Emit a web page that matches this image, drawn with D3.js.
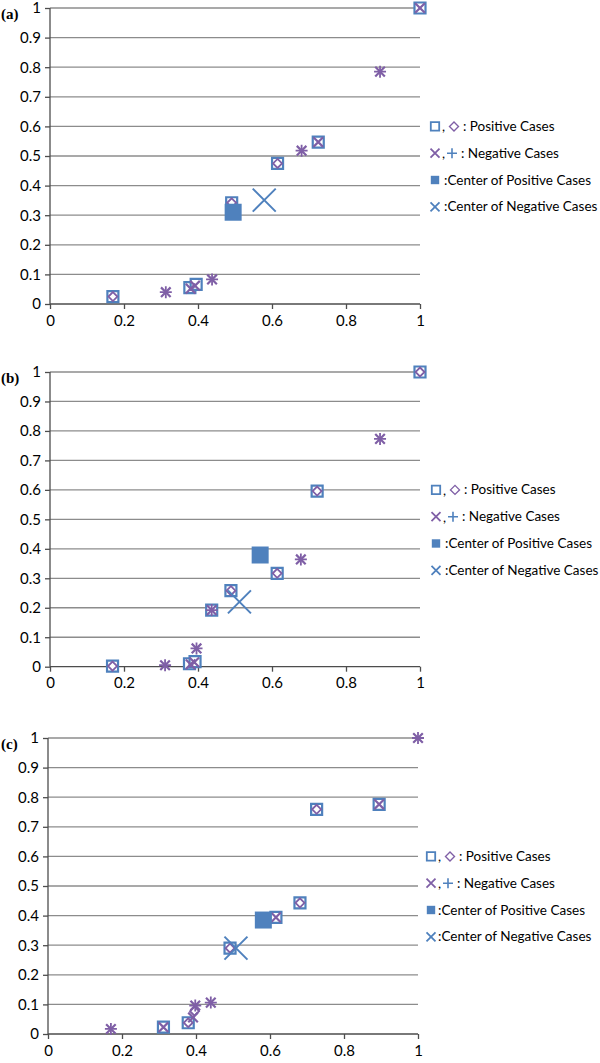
<!DOCTYPE html>
<html><head><meta charset="utf-8">
<script src="https://cdn.jsdelivr.net/npm/d3@7"></script>
<style>body{margin:0;background:#fff}svg{display:block}</style>
</head><body>
<svg id="c" width="600" height="1063"></svg>
<script>
// ---------- data ----------
const panelLabels = ["(a)", "(b)", "(c)"];
const xTicks = [0, 0.2, 0.4, 0.6, 0.8, 1];
const yTicks = [0, 0.1, 0.2, 0.3, 0.4, 0.5, 0.6, 0.7, 0.8, 0.9, 1];
const legendLabels = ["Positive Cases", "Negative Cases", "Center of Positive Cases", "Center of Negative Cases"];

// panel (a)
const aSquares  = [[0.17,0.025],[0.378,0.055],[0.395,0.066],[0.491,0.342],[0.615,0.475],[0.725,0.547],[1.0,1.0]];
const aDiamonds = [[0.17,0.025],[0.491,0.342],[0.615,0.475]];
const aCrosses  = [[0.313,0.04],[0.38,0.052],[0.392,0.062],[0.438,0.083],[0.68,0.518],[0.725,0.547],[0.892,0.785],[1.0,1.0]];
const aPluses   = [[0.313,0.04],[0.438,0.083],[0.68,0.518],[0.892,0.785]];
const aCenterPos = [0.495, 0.31];
const aCenterNeg = [0.579, 0.351];

// panel (b)
const bSquares  = [[0.169,0.002],[0.377,0.01],[0.392,0.017],[0.437,0.192],[0.489,0.258],[0.614,0.317],[0.722,0.596],[1.0,1.0]];
const bDiamonds = [[0.169,0.002],[0.489,0.258],[0.614,0.317],[0.722,0.596],[1.0,1.0]];
const bCrosses  = [[0.311,0.005],[0.38,0.008],[0.39,0.015],[0.396,0.062],[0.437,0.192],[0.678,0.364],[0.892,0.773]];
const bPluses   = [[0.311,0.005],[0.396,0.062],[0.437,0.192],[0.678,0.364],[0.892,0.773]];
const bCenterPos = [0.568, 0.379];
const bCenterNeg = [0.512, 0.22];

// panel (c)
const cSquares  = [[0.312,0.023],[0.379,0.038],[0.492,0.29],[0.616,0.394],[0.681,0.443],[0.726,0.759],[0.895,0.776]];
const cDiamonds = [[0.379,0.038],[0.396,0.077],[0.492,0.29],[0.681,0.443],[0.726,0.759]];
const cCrosses  = [[0.17,0.017],[0.312,0.023],[0.392,0.056],[0.398,0.096],[0.44,0.106],[0.616,0.394],[0.895,0.776],[1.0,1.0]];
const cPluses   = [[0.17,0.017],[0.398,0.096],[0.44,0.106],[1.0,1.0]];
const cCenterPos = [0.582, 0.385];
const cCenterNeg = [0.508, 0.29];

// ---------- layout ----------
const panels = [
  {label: panelLabels[0], left: 50, right: 420, top: 8,   bottom: 304,
   sq: aSquares, di: aDiamonds, cr: aCrosses, pl: aPluses, cp: aCenterPos, cn: aCenterNeg, legDx: 12, colonDx: 12},
  {label: panelLabels[1], left: 50, right: 420, top: 372, bottom: 666.7,
   sq: bSquares, di: bDiamonds, cr: bCrosses, pl: bPluses, cp: bCenterPos, cn: bCenterNeg, legDx: 13, colonDx: 12},
  {label: panelLabels[2], left: 48, right: 418, top: 738, bottom: 1034,
   sq: cSquares, di: cDiamonds, cr: cCrosses, pl: cPluses, cp: cCenterPos, cn: cCenterNeg, legDx: 10, colonDx: 10}
];

const BLUE = "#4F81BD", PURPLE = "#7F5FA6", GRID = "#8c8c8c", AXIS = "#4d4d4d";
const FONT = "Lato, 'Noto Sans', sans-serif";
const svg = d3.select("#c");

function sqPath(s){ return `M${-s},${-s}H${s}V${s}H${-s}Z`; }
function diPath(s){ return `M0,${-s}L${s},0L0,${s}L${-s},0Z`; }
function crPath(s){ return `M${-s},${-s}L${s},${s}M${-s},${s}L${s},${-s}`; }
function plPath(s){ return `M${-s},0H${s}M0,${-s}V${s}`; }

panels.forEach(p => {
  const x = d3.scaleLinear().domain([0,1]).range([p.left, p.right]);
  const y = d3.scaleLinear().domain([0,1]).range([p.bottom, p.top]);
  const g = svg.append("g");

  // gridlines
  g.selectAll("line.grid").data(yTicks.filter(t => t > 0)).join("line")
    .attr("x1", p.left).attr("x2", p.right)
    .attr("y1", d => y(d)).attr("y2", d => y(d))
    .attr("stroke", GRID).attr("stroke-width", 1.3);

  // axes
  const ya = g.append("g").attr("transform", `translate(${p.left},0)`)
    .call(d3.axisLeft(y).tickValues(yTicks).tickFormat(d3.format("")).tickSize(5).tickPadding(4));
  const xa = g.append("g").attr("transform", `translate(0,${p.bottom})`)
    .call(d3.axisBottom(x).tickValues(xTicks).tickFormat(d3.format("")).tickSize(5).tickPadding(6));
  [ya, xa].forEach(a => {
    a.select(".domain").attr("stroke", AXIS).attr("stroke-width", 1.3);
    a.selectAll(".tick line").attr("stroke", AXIS).attr("stroke-width", 1.3);
    a.selectAll("text").attr("font-family", FONT).attr("font-size", 15).attr("fill", "#000");
  });
  ya.select(".domain").attr("d", `M0,${p.bottom}V${p.top}`);
  xa.select(".domain").attr("d", `M${p.left},0H${p.right}`);

  // panel label
  g.append("text").attr("x", 1).attr("y", p.top + 11)
    .attr("font-family", "'Liberation Serif', 'DejaVu Serif', serif").attr("font-weight", "bold")
    .attr("font-size", 15).text(p.label);

  const tr = d => `translate(${x(d[0])},${y(d[1])})`;
  g.selectAll("path.sq").data(p.sq).join("path").attr("transform", tr)
    .attr("d", sqPath(5.5)).attr("fill", "#fff").attr("stroke", BLUE).attr("stroke-width", 2.2);
  g.selectAll("path.di").data(p.di).join("path").attr("transform", tr)
    .attr("d", diPath(4.5)).attr("fill", "#fff").attr("stroke", PURPLE).attr("stroke-width", 1.8);
  g.selectAll("path.cr").data(p.cr).join("path").attr("transform", tr)
    .attr("d", crPath(4.8)).attr("fill", "none").attr("stroke", PURPLE).attr("stroke-width", 2.2);
  g.selectAll("path.pl").data(p.pl).join("path").attr("transform", tr)
    .attr("d", plPath(6)).attr("fill", "none").attr("stroke", PURPLE).attr("stroke-width", 1.8);

  // centers
  g.append("path").datum(p.cp).attr("transform", tr).attr("d", sqPath(8.5)).attr("fill", BLUE);
  g.append("path").datum(p.cn).attr("transform", tr).attr("d", crPath(11.5))
    .attr("fill", "none").attr("stroke", BLUE).attr("stroke-width", 2);

  // legend
  const lx = p.right + p.legDx;
  const rowY = i => y(0.6) + i * 26.8;
  const lg = g.append("g").attr("font-family", FONT).attr("font-size", 13.5);
  // row 0
  lg.append("path").attr("transform", `translate(${lx+3},${rowY(0)})`).attr("d", sqPath(4.2))
    .attr("fill", "#fff").attr("stroke", BLUE).attr("stroke-width", 1.8);
  lg.append("text").attr("x", lx+10).attr("y", rowY(0)+5).text(",");
  lg.append("path").attr("transform", `translate(${lx+22},${rowY(0)})`).attr("d", diPath(4.5))
    .attr("fill", "none").attr("stroke", PURPLE).attr("stroke-width", 1.4);
  lg.append("text").attr("x", lx+31).attr("y", rowY(0)+4.5).text(": " + legendLabels[0]);
  // row 1
  lg.append("path").attr("transform", `translate(${lx+3},${rowY(1)})`).attr("d", crPath(4.5))
    .attr("fill", "none").attr("stroke", PURPLE).attr("stroke-width", 1.8);
  lg.append("text").attr("x", lx+10).attr("y", rowY(1)+5).text(",");
  lg.append("path").attr("transform", `translate(${lx+20},${rowY(1)})`).attr("d", plPath(5))
    .attr("fill", "none").attr("stroke", BLUE).attr("stroke-width", 1.6);
  lg.append("text").attr("x", lx+29).attr("y", rowY(1)+4.5).text(": " + legendLabels[1]);
  // row 2
  lg.append("path").attr("transform", `translate(${lx+3},${rowY(2)})`).attr("d", sqPath(4.2)).attr("fill", BLUE);
  lg.append("text").attr("x", lx+p.colonDx).attr("y", rowY(2)+4.5).text(":" + legendLabels[2]);
  // row 3
  lg.append("path").attr("transform", `translate(${lx+3},${rowY(3)})`).attr("d", crPath(4.5))
    .attr("fill", "none").attr("stroke", BLUE).attr("stroke-width", 1.8);
  lg.append("text").attr("x", lx+p.colonDx).attr("y", rowY(3)+4.5).text(":" + legendLabels[3]);
});
</script>
</body></html>
